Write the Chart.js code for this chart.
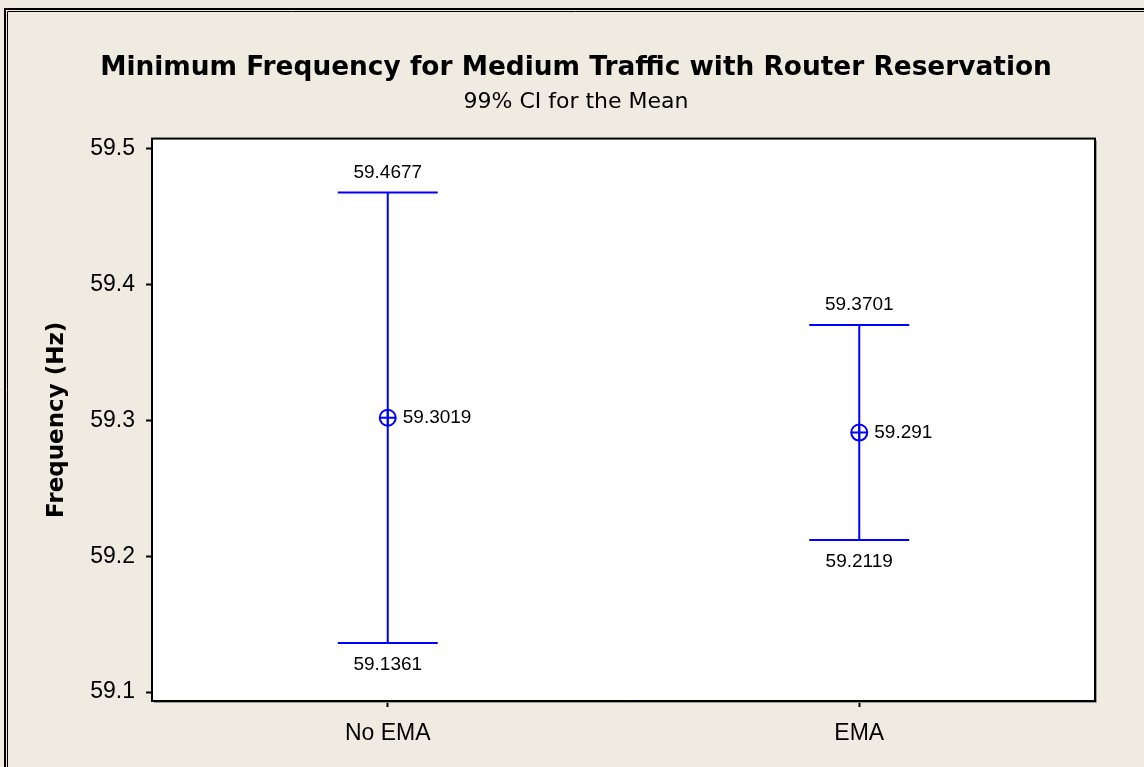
<!DOCTYPE html>
<html>
<head>
<meta charset="utf-8">
<script src="https://cdn.jsdelivr.net/npm/chart.js@4.4.1/dist/chart.umd.min.js"></script>
<style>
  html, body { margin: 0; padding: 0; background: #efebe0; }
  #wrap { width: 1144px; height: 767px; }
</style>
</head>
<body>
<div id="wrap"><canvas id="ciChart"></canvas></div>
<script>
// Data
const groups = ['No EMA', 'EMA'];
const means = [59.3019, 59.291];
const lower = [59.1361, 59.2119];
const upper = [59.4677, 59.3701];
const yTicks = [59.1, 59.2, 59.3, 59.4, 59.5];

const BLUE = '#0000ff';
const FONT = "'Liberation Sans', Arial, sans-serif";
const WIDE = "'DejaVu Sans', Verdana, sans-serif";
const CAP_HALF = 0.106; // half width of the interval caps, in x units

// Build the datasets: stems, caps and mean markers
const datasets = [];
groups.forEach((g, i) => {
    datasets.push({
        data: [{ x: i, y: lower[i] }, { x: i, y: upper[i] }],
        showLine: true, borderColor: BLUE, borderWidth: 2, pointRadius: 0
    });
    datasets.push({
        data: [{ x: i - CAP_HALF, y: upper[i] }, { x: i + CAP_HALF, y: upper[i] }],
        showLine: true, borderColor: BLUE, borderWidth: 2, pointRadius: 0
    });
    datasets.push({
        data: [{ x: i - CAP_HALF, y: lower[i] }, { x: i + CAP_HALF, y: lower[i] }],
        showLine: true, borderColor: BLUE, borderWidth: 2, pointRadius: 0
    });
});
datasets.push({
    data: means.map((m, i) => ({ x: i, y: m })),
    pointStyle: 'circle', pointRadius: 8, pointBorderWidth: 2,
    pointBorderColor: BLUE, pointBackgroundColor: 'rgba(0,0,0,0)'
});
datasets.push({
    data: means.map((m, i) => ({ x: i, y: m })),
    pointStyle: 'cross', pointRadius: 8, pointBorderWidth: 2,
    pointBorderColor: BLUE
});

// Background, outer frame and white plot area
const framePlugin = {
    id: 'frame',
    beforeDraw(chart) {
        const { ctx, width, height, chartArea: a } = chart;
        ctx.save();
        ctx.fillStyle = '#efebe0';
        ctx.fillRect(0, 0, width, height);
        ctx.strokeStyle = '#000';
        ctx.lineWidth = 2;
        ctx.beginPath();
        ctx.moveTo(5, height); ctx.lineTo(5, 9); ctx.lineTo(width, 9);
        ctx.stroke();
        ctx.lineWidth = 1;
        ctx.beginPath();
        ctx.moveTo(7.5, height); ctx.lineTo(7.5, 11.5); ctx.lineTo(width, 11.5);
        ctx.stroke();
        ctx.fillStyle = '#fff';
        ctx.fillRect(a.left, a.top, a.right - a.left, a.bottom - a.top);
        ctx.restore();
    },
    afterDraw(chart) {
        const { ctx, chartArea: a } = chart;
        ctx.save();
        ctx.strokeStyle = '#9a9a9a';
        ctx.lineWidth = 1;
        ctx.beginPath();
        ctx.moveTo(a.left + 2, a.bottom + 1.5); ctx.lineTo(a.right + 1.5, a.bottom + 1.5);
        ctx.lineTo(a.right + 1.5, a.top + 2);
        ctx.stroke();
        ctx.strokeStyle = '#000';
        ctx.lineWidth = 2;
        ctx.strokeRect(a.left, a.top, a.right - a.left, a.bottom - a.top);
        ctx.restore();
    }
};

// Value labels beside the intervals
const labelPlugin = {
    id: 'ciLabels',
    afterDatasetsDraw(chart) {
        const { ctx, scales: { x, y } } = chart;
        ctx.save();
        ctx.fillStyle = '#000';
        ctx.font = '19px ' + FONT;
        ctx.textBaseline = 'middle';
        groups.forEach((g, i) => {
            const px = x.getPixelForValue(i);
            ctx.textAlign = 'center';
            ctx.fillText(String(upper[i]), px, y.getPixelForValue(upper[i]) - 20);
            ctx.fillText(String(lower[i]), px, y.getPixelForValue(lower[i]) + 22);
            ctx.textAlign = 'left';
            ctx.fillText(String(means[i]), px + 15, y.getPixelForValue(means[i]));
        });
        ctx.restore();
    }
};

new Chart(document.getElementById('ciChart'), {
    type: 'scatter',
    data: { datasets },
    plugins: [framePlugin, labelPlugin],
    options: {
        responsive: true,
        maintainAspectRatio: false,
        animation: false,
        layout: { padding: { left: 8, right: 0, top: 0, bottom: 0 } },
        plugins: {
            legend: { display: false },
            tooltip: { enabled: false },
            title: {
                display: true,
                text: 'Minimum Frequency for Medium Traffic with Router Reservation',
                color: '#000',
                font: { family: WIDE, size: 26.4, weight: 'bold', lineHeight: 1.2 },
                padding: { top: 52, bottom: 0 }
            },
            subtitle: {
                display: true,
                text: '99% CI for the Mean',
                color: '#000',
                font: { family: WIDE, size: 22, lineHeight: 1.2 },
                padding: { top: 5, bottom: 23.5 }
            }
        },
        scales: {
            x: {
                type: 'linear',
                min: -0.5,
                max: 1.5,
                afterBuildTicks: (s) => { s.ticks = groups.map((g, i) => ({ value: i })); },
                afterFit: (s) => { s.height = 66; },
                ticks: {
                    color: '#000',
                    font: { family: FONT, size: 23 },
                    padding: 13,
                    callback: (v) => groups[v]
                },
                grid: { drawOnChartArea: false, color: '#000', tickLength: 6, tickWidth: 2 },
                border: { display: false }
            },
            y: {
                min: 59.0934,
                max: 59.5074,
                afterBuildTicks: (s) => { s.ticks = yTicks.map(v => ({ value: v })); },
                afterFit: (s) => { s.width = 144; },
                ticks: {
                    color: '#000',
                    font: { family: FONT, size: 23 },
                    padding: 11,
                    callback: (v) => v.toFixed(1)
                },
                grid: { drawOnChartArea: false, color: '#000', tickLength: 6, tickWidth: 2 },
                border: { display: false },
                title: {
                    display: true,
                    text: 'Frequency (Hz)',
                    color: '#000',
                    font: { family: WIDE, size: 23, weight: 'bold', lineHeight: 1.2 },
                    padding: { top: 35, bottom: 0 }
                }
            },
            yRight: {
                position: 'right',
                display: true,
                ticks: { display: false },
                grid: { display: false },
                border: { display: false },
                afterFit: (s) => { s.width = 49; }
            }
        }
    }
});
</script>
</body>
</html>
